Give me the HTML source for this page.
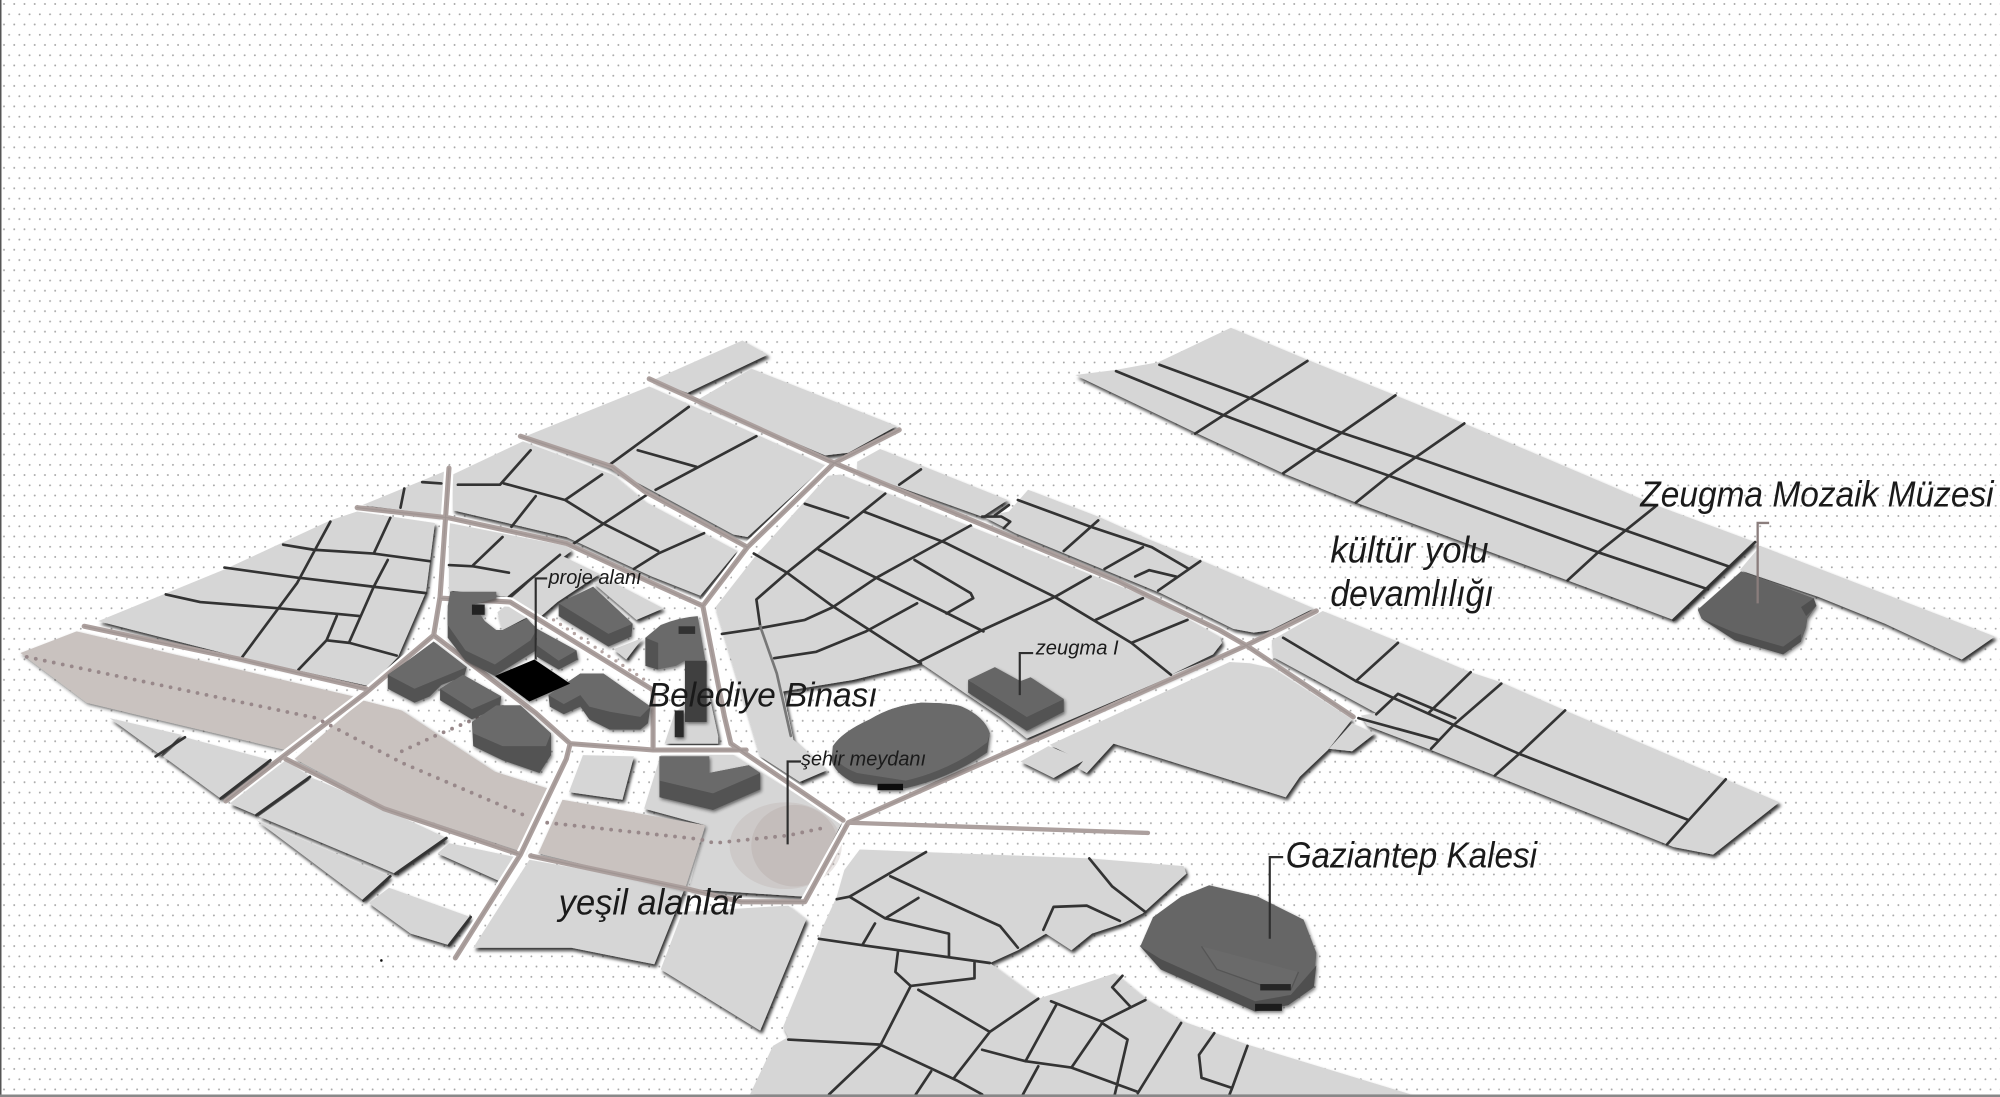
<!DOCTYPE html>
<html><head><meta charset="utf-8"><title>Gaziantep</title>
<style>
html,body{margin:0;padding:0;background:#fff}
svg{display:block}
.t{font-family:"Liberation Sans",sans-serif;font-style:italic;fill:#1a1a1a}
.b polygon,.b path{fill:#d6d6d6}
.g polygon{fill:#c9c2bf}
.l path{fill:none;stroke:#333;stroke-width:2.1;stroke-linejoin:round;stroke-linecap:round}
.d{fill:#6a6a6a}.s{fill:#535353}
.lead{fill:none;stroke:#2e2e2e;stroke-width:1.7}
</style></head><body>
<svg width="2000" height="1097" viewBox="0 0 2000 1097" xmlns="http://www.w3.org/2000/svg">
<defs>
<pattern id="dots" width="10.24" height="20.48" patternUnits="userSpaceOnUse" patternTransform="translate(-1,-1)">
<circle cx="5" cy="5" r=".95" fill="#a6a6a6"/><circle cx="10.12" cy="15.3" r=".95" fill="#a6a6a6"/><circle cx="-.12" cy="15.3" r=".95" fill="#a6a6a6"/>
</pattern>
<filter id="sh" x="-5%" y="-5%" width="110%" height="110%"><feDropShadow dx="1.6" dy="2.4" stdDeviation="1.3" flood-color="#111" flood-opacity=".85"/></filter>
<filter id="sh2" x="-10%" y="-10%" width="120%" height="120%"><feDropShadow dx="1" dy="1.5" stdDeviation="1.2" flood-color="#222" flood-opacity=".6"/></filter>
<path id="rd" d="M509,297L654,363L875,455L956,494L977,506L1061,562M1032,479L977,506L823,575L665,645M665,645L631,707L581,707L539,697L416,671M705,337L654,363L586,429L551,475L568,562L573,583L661,643M408,342L480,366L505,385L586,429M280,398L352,406L444,426L511,457L551,475M352,367L345,468L340,498L287,543L222,593L177,628M66,491L189,517L287,540M340,498L420,559L447,583M346,469L400,472L512,541L512,587M224,595L301,634L408,670M357,751L408,670L444,595L447,583L512,588L585,588"/>
<path id="rd2" d="M665,645L900,653"/>
</defs>
<rect width="2000" height="1097" fill="#fff"/>
<rect width="2000" height="1097" fill="url(#dots)"/>
<g transform="scale(1.27551)">

<g class="b" filter="url(#sh)">
<!-- east strips -->
<polygon points="843,294 875,290 908,284 965,257 1025,282 1094,310 1148,332 1298,396 1376,425 1312,486 1229,455 1063,394 1006,371 939,340"/>
<polygon points="1380,428 1564,499 1538,517 1478,489 1426,468 1364,447"/>
<polygon points="1037,479 1096,503 1153,527 1177,535 1227,557 1353,611 1395,629 1343,670 1312,664 1307,662 1172,608 1122,588 1072,569 1067,561 1079,559 998,515 997,502"/>
<!-- north -->
<polygon points="582,267 602,278 539,308 512,298"/>
<polygon points="589,289 703,334 665,355 647,357 546,314"/>
<polygon points="412,342 509,303 647,365 586,421 575,419 475,365"/>
<!-- NW blocks -->
<polygon points="77,487 177,446 259,408 280,401 341,410 334,464 312,515 290,538 191,516"/>
<polygon points="284,396 350,369 346,404"/>
<polygon points="355,372 410,346 480,372 505,393 578,432 549,467 511,452 444,421 355,400"/>
<polygon points="352,410 444,428 448,432 399,468 352,463"/>
<polygon points="401,469 439,435 470,450 437,472 422,485"/>
<polygon points="465,457 478,455 520,477 499,486"/>
<polygon points="481,509 504,500 491,517"/>
<polygon points="390,480 400,472 413,484 394,494"/>
<!-- N upper strips -->
<polygon points="672,362 690,352 790,392 770,405 672,370"/>
<polygon points="806,384 861,405 901,423 941,439 1030,477 996,494 983,496 967,493 910,465 796,418 771,405 791,401"/>
<!-- central -->
<polygon points="649,373 659,372 904,470 956,499 958,504 951,513 918,529 970,508 805,579 784,562 722,520 669,533 614,542 622,580 648,604 627,613 596,593 561,476 593,435"/>
<polygon points="964,519 980,520 998,524 1060,564 1041,588 1019,609 1008,625 873,583 852,606 845,602 849,597 823,584"/>
<polygon points="822,585 850,596 826,610 800,597"/>
<polygon points="1060,567 1078,575 1060,589 1042,587"/>
<!-- center -->
<polygon points="457,592 497,593 488,627 446,621"/>
<polygon points="521,583 563,583 563,577 554,536 529,559"/>
<polygon points="505,634 518,592 572,590 660,645 630,703 540,697 553,647"/>
<polygon points="415,674 537,696 513,756 448,743 371,743"/>
<polygon points="535,715 618,710 632,721 596,808 518,760"/>
<!-- lower left -->
<polygon points="86,563 142,576 126,592"/>
<polygon points="145,578 212,596 173,626 128,593"/>
<polygon points="224,596 243,609 201,639 180,630"/>
<polygon points="245,610 301,634 350,657 310,685 203,640"/>
<polygon points="201,643 306,687 285,706"/>
<polygon points="343,669 352,661 404,672 392,691"/>
<polygon points="305,696 369,719 352,741 322,732 289,708"/>
<!-- south -->
<polygon points="674,666 854,673 928,679 930,685 896,716 880,724 856,732 840,745 820,732 798,745 776,755 814,783 874,763 898,783 928,801 978,819 1106,858 588,858 606,820 618,813 614,805 642,737 644,729 656,703 662,682"/>
</g>

<g class="g" filter="url(#sh2)">
<polygon points="16,512 60,495 277,546 224,588 68,551"/>
<polygon points="284,549 315,557 388,605 429,618 410,668 301,632 231,595"/>
<polygon points="441,627 553,647 537,697 422,669"/>
</g>

<!-- thin street lines -->
<g class="l">
<path d="M875,291L958,325L1032,353L1089,373L1253,433L1339,462"/>
<path d="M909,286L980,312L1051,339L1111,359L1272,415L1355,444"/>
<path d="M1025,283L977,314L937,340M1094,310L1032,353L1006,371M1148,332L1089,373L1063,394M1298,397L1253,433L1229,455M1376,425L1312,486" stroke-width="2.3"/>
<path d="M1006,500L1063,534L1141,569L1191,591L1324,643"/>
<path d="M1096,504L1063,534M1153,527L1120,559M1177,536L1139,569L1122,587M1227,557L1191,591L1172,608M1353,611L1324,643L1307,662"/>
<path d="M1065,563L1127,580M1096,544L1141,563M1096,544L1079,560"/>
<path d="M259,409L247,431L233,457L190,515M306,406L293,434M304,439L293,460L274,503M222,427L246,431L293,434L337,440M176,445L234,453M235,453L293,460L334,465M130,466L157,472L220,477L282,483M264,483L256,502L234,525M256,502L274,504L311,514"/>
<path d="M317,383L314,398M331,378L346,379"/>
<path d="M416,353L392,380L359,380M395,379L443,392L472,372M420,389L401,413M443,392L472,410L516,432M507,388L450,426M394,421L371,443M352,443L371,444L399,449M439,435L399,468"/>
<path d="M540,319L477,365M500,353L546,366M593,342L514,384M552,418L516,434L497,446"/>
<path d="M631,395L665,406M677,401L740,425L827,468M642,431L687,453L771,495M591,434L617,449L651,474L722,520M761,412L687,453L653,476L631,486L593,493L566,497M717,439L761,465L763,469L742,481M719,473L679,495L640,511L607,516M855,452L827,468L768,495L720,519M896,469L859,486M931,486L887,504M827,468L887,504L918,529"/>
<path d="M694,387L617,449L593,470L596,491" />
<path d="M596,491L609,528L620,577" style="stroke:#777"/>
<path d="M722,368L705,380M798,392L855,413L903,429L932,446M861,408L834,432M896,429L866,446M941,440L908,463M890,452L901,447L922,452M770,405L785,405L792,409L787,414M791,396L780,404"/>
<path d="M726,668L666,703L656,705M698,687L784,726L798,743M666,703L694,720L720,704M694,720L744,732L744,750M686,724L676,741L642,736M676,741L776,755M704,746L702,762L714,773L764,767L764,755M714,773L690,820L650,858M720,776L776,809L814,783M776,809L748,845M618,815L690,819L750,847L770,858M770,823L804,832L828,788M804,832L840,837L864,802M824,785L864,801L898,784M872,774L886,789M880,765L872,774M864,802L884,815L874,858M840,837L892,856M926,802L892,857M952,810L940,827L942,845L966,853L978,820M966,853L964,858M730,840L718,858M814,836L802,858M854,673L872,695L898,715M818,729L826,711L852,710L878,722" stroke-width="2.3"/>
<path d="M122,593L145,578M173,626L212,596M201,639L243,609M285,706L306,687M392,691L404,672M352,741L369,719M310,685L350,657" stroke-width="2.6"/>
</g>

<!-- plaza -->
<ellipse cx="616" cy="663" rx="44" ry="34" fill="#b8aca9" opacity=".3"/>
<ellipse cx="623" cy="663" rx="34" ry="32" fill="#b0a3a0" opacity=".3"/>

<!-- white halos + roads -->
<path d="M352,367L345,468L340,498L287,543L222,593M654,363L586,429L551,475L568,562L573,583L661,643M346,469L400,472L512,541L512,587M340,498L420,559L447,583M447,583L512,588L585,588M357,751L408,670L444,595M665,645L631,707" fill="none" stroke="#fff" stroke-width="7.500" stroke-linejoin="round"/>
<g fill="none" stroke-linejoin="round" stroke-linecap="round">
<use href="#rd" stroke="#aca09e" stroke-width="4"/>
<use href="#rd" stroke="#8f8482" stroke-width="1" opacity=".4"/>
<use href="#rd2" stroke="#aca09e" stroke-width="3.400"/>
</g>

<!-- dotted route + trees -->
<g fill="none" stroke="#98888a" stroke-width="3" stroke-linecap="round" stroke-dasharray="0 7.200">
<path d="M21,515L248,563L315,598L413,640"/>
<path d="M315,589L341,577L395,554"/>
<path d="M429,645L549,658L560,661L618,655L646,649"/>
</g>
<path d="M434,486L507,534" fill="none" stroke="#b5a5a3" stroke-width="2.600" stroke-linecap="round" stroke-dasharray="0 6.500"/>

<!-- project buildings -->
<g filter="url(#sh2)">
<polygon class="s" points="353,464 389,464 389,469 371,474 380,487 389,494 394,494 413,485 421,493 420,510 388,530 365,518 351,500 351,480"/>
<polygon class="d" points="353,464 389,464 389,469 371,474 380,487 389,494 394,494 413,485 421,493 416,502 388,521 365,510 351,490 351,475"/>
<polygon class="s" points="421,493 452,510 453,517 438,525 421,515"/>
<polygon class="d" points="421,493 452,510 438,518 421,506"/>
<polygon class="s" points="304,529 321,517 340,503 366,523 364,530 346,537 337,546 325,551 304,540"/>
<polygon class="d" points="304,529 321,517 340,503 366,523 337,535 325,540"/>
<polygon class="s" points="345,540 363,529 393,546 392,554 370,564 345,549"/>
<polygon class="d" points="345,540 363,529 393,546 370,556"/>
<polygon class="s" points="370,566 389,553 408,553 432,575 432,592 423,606 394,596 371,585"/>
<polygon class="d" points="370,566 389,553 408,553 432,575 428,585 394,585 371,575"/>
<polygon class="s" points="430,545 455,528 473,528 510,554 508,567 502,572 478,572 462,564 455,554 442,560 431,554"/>
<polygon class="d" points="430,545 455,528 473,528 510,554 502,562 478,558 462,554 455,545 442,552"/>
<polygon class="s" points="438,473 465,460 496,489 495,499 477,507 438,483"/>
<polygon class="d" points="438,473 465,460 496,489 477,497"/>
<path class="d" d="M506,500L518,490Q532,484 547,483L553,518L537,518L530,522L515,525L506,520Z"/>
<polygon class="s" points="506,500 516,504 516,525 506,522"/>
<rect x="537" y="518" width="17" height="48" fill="#3f3f3f"/>
<rect x="529" y="557" width="7" height="21" fill="#2c2c2c"/>
<rect x="532" y="491" width="13" height="6" fill="#333"/>
<polygon class="s" points="517,593 556,593 556,606 587,600 596,606 596,619 559,635 517,625"/>
<polygon class="d" points="517,593 556,593 556,606 587,600 596,606 559,622 517,612"/>
<polygon fill="#000" points="388,530 419,517 447,536 415,550"/>
<rect x="370" y="474" width="10" height="8" fill="#222"/>
</g>

<!-- major buildings -->
<g filter="url(#sh2)">
<polygon class="s" points="759,533 805,562 834,548 834,558 805,573 759,543"/>
<polygon fill="#666" points="759,533 780,523 800,534 808,531 834,548 805,562"/>
<path fill="#575757" d="M653,585Q660,574 682,564Q700,553 722,551Q745,551 754,554Q772,562 776,575L774,590Q745,610 710,618L670,614Q654,606 652,596Z"/>
<path fill="#6a6a6a" d="M653,585Q660,574 682,564Q700,553 722,551Q745,551 754,554Q772,562 776,575L774,582Q745,604 710,612L672,606Q656,600 653,590Z"/>
<rect x="688" y="614.500" width="20" height="5" fill="#111"/>
<polygon fill="#666" points="948,694 986,703 1022,721 1032,747 1030,774 1010,788 984,793 910,760 894,742 904,719 926,703"/>
<polygon fill="#505050" points="894,742 910,752 984,785 1012,780 1032,757 1030,774 1010,788 984,793 910,760"/>
<path d="M942,742L954,760L988,772L1012,776L1018,762" fill="#6a6a6a" stroke="#555" stroke-width="1"/>
<rect x="984" y="787" width="21" height="5.500" fill="#1a1a1a"/>
<rect x="988" y="771.500" width="24" height="5" fill="#262626"/>
<polygon fill="#636363" points="1365,448 1422,469 1424,475 1417,485 1416,492 1412,503 1398,513 1360,502 1334,485 1331,478"/>
<path d="M1334,485L1360,496L1398,507L1412,497L1412,503L1398,513L1360,502L1334,485ZM1416,483L1424,475L1422,469L1412,476Z" fill="#505050"/>
</g>

<!-- leaders -->
<path class="lead" d="M429,453.500H420V517"/>
<path class="lead" d="M810,512H799.500V545"/>
<path class="lead" d="M628,597H617.500V662"/>
<path class="lead" d="M1006,672H995.500V736" stroke-width="2"/>
<path d="M1387,410H1378V473" fill="none" stroke="#8a7d7c" stroke-width="1.800"/>

<!-- labels -->
<text class="t" x="430" y="458" font-size="16" textLength="73" lengthAdjust="spacingAndGlyphs">proje alanı</text>
<text class="t" x="812" y="513" font-size="16" textLength="65" lengthAdjust="spacingAndGlyphs">zeugma I</text>
<text class="t" x="628" y="600" font-size="16" textLength="98" lengthAdjust="spacingAndGlyphs">şehir meydanı</text>
<text class="t" x="508" y="554" font-size="27" textLength="180" lengthAdjust="spacingAndGlyphs">Belediye Binası</text>
<text class="t" x="438" y="717" font-size="28" textLength="143" lengthAdjust="spacingAndGlyphs">yeşil alanlar</text>
<text class="t" x="1043" y="441" font-size="29" textLength="124" lengthAdjust="spacingAndGlyphs">kültür yolu</text>
<text class="t" x="1043" y="475" font-size="29" textLength="128" lengthAdjust="spacingAndGlyphs">devamlılığı</text>
<text class="t" x="1286" y="397" font-size="28" textLength="277" lengthAdjust="spacingAndGlyphs">Zeugma Mozaik Müzesi</text>
<text class="t" x="1008" y="680" font-size="28" textLength="197" lengthAdjust="spacingAndGlyphs">Gaziantep Kalesi</text>
<circle cx="299" cy="753" r="1" fill="#111"/>
</g>
<rect x="0" y="0" width="1.500" height="1097" fill="#555"/>
<rect x="0" y="1094.500" width="2000" height="2.500" fill="#888"/>
</svg>
</body></html>
